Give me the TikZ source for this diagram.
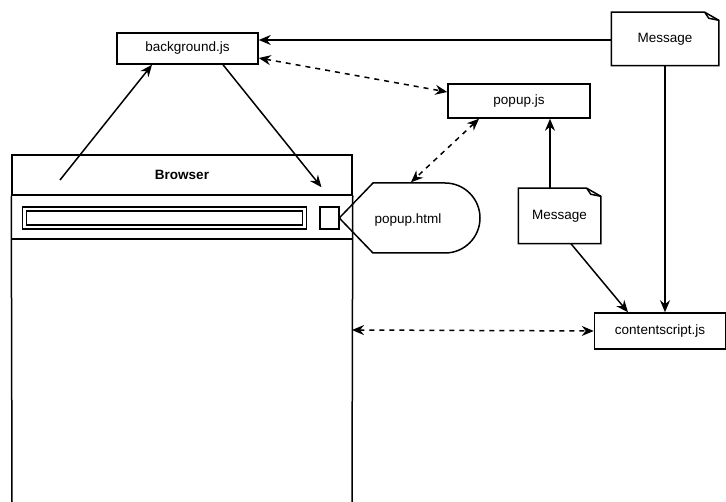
\documentclass[tikz,border=0pt]{standalone}
\usepackage{fontspec}
\setmainfont{Liberation Sans}
\usetikzlibrary{arrows.meta}
\tikzset{
  box/.style={draw, rectangle, inner sep=0pt},
  note/.style={rectangle, inner sep=0pt},
  tip/.style={-{Stealth[length=12pt,width=10pt,inset=4pt]}},
  tips/.style={{Stealth[length=12pt,width=10pt,inset=4pt]}-{Stealth[length=12pt,width=10pt,inset=4pt]}, dashed, dash pattern=on 5pt off 5pt}
}
\begin{document}
\begin{tikzpicture}[x=1pt, y=-1pt, line width=1.5pt, font=\fontsize{13.5}{15}\selectfont]
                \useasboundingbox (0,0) rectangle (726,502);
                % nodes
                \node [box, minimum width=141pt, minimum height=31pt] (bg) at (187.5,48.5) {background.js};
                \node [box, minimum width=142pt, minimum height=34pt] (popjs) at (519,101) {popup.js};
                \node [box, minimum width=131pt, minimum height=36pt] (content) at (660,331) {contentscript.js};
                \node [note, minimum width=106pt, minimum height=52pt] (msgtop) at (665,39) {Message};
                \node [note, minimum width=81pt, minimum height=54pt] (msgmid) at (559.5,216) {Message};
                \foreach \m in {msgtop,msgmid} {
                  \draw (\m.north west) -- ([xshift=-14pt]\m.north east) -- ([yshift=-8pt]\m.north east) -- (\m.south east) -- (\m.south west) -- cycle;
                  \draw ([xshift=-14pt]\m.north east) -- ([xshift=-10pt,yshift=-6pt]\m.north east) -- ([yshift=-8pt]\m.north east);
                }
                % browser window
                \node [box, minimum width=340pt, minimum height=40pt, font=\fontsize{13.5}{15}\selectfont\bfseries] (header) at (182,175) {Browser};
                \draw (header.south west) -- (12,502);
                \draw (header.south east) -- (352,502);
                \draw (12,239) -- (352,239);
                \node [box, double, double distance=2.6pt, minimum width=280pt, minimum height=18pt] (addr) at (164.5,218) {};
                \node [box, minimum width=19pt, minimum height=22pt] (button) at (329.5,218) {};
                \coordinate (browser) at (352,330);
                \coordinate (click) at (60,180);
                % popup.html
                \node [note, minimum width=140pt, minimum height=70pt] (pophtml) at (410,218) {};
                \draw (pophtml.west) -- (373,183) -- (445,183) arc [start angle=90, end angle=-90, radius=35pt] -- (373,253) -- cycle;
                \node at (408,220) {popup.html};
                % connectors
                \draw [tip] (msgtop.west |- 0,40) -- (bg.east |- 0,40);
                \draw [tip] (click) -- (bg.south -| 152,0);
                \draw [tip] (bg.south -| 223,0) -- ([xshift=-8pt,yshift=19pt]button.north);
                \draw [tips] (bg.east |- 0,58) -- (popjs.west |- 0,92);
                \draw [tips] (popjs.south -| 479,0) -- (pophtml.north -| 411,0);
                \draw [tip] (msgmid.north -| 550,0) -- (popjs.south -| 550,0);
                \draw [tip] (msgmid.south -| 571,0) -- (content.north -| 628,0);
                \draw [tip] (msgtop.south) -- (content.north -| msgtop.south);
                \draw [tips] (browser) -- (content.west);
            \end{tikzpicture}
\end{document}
